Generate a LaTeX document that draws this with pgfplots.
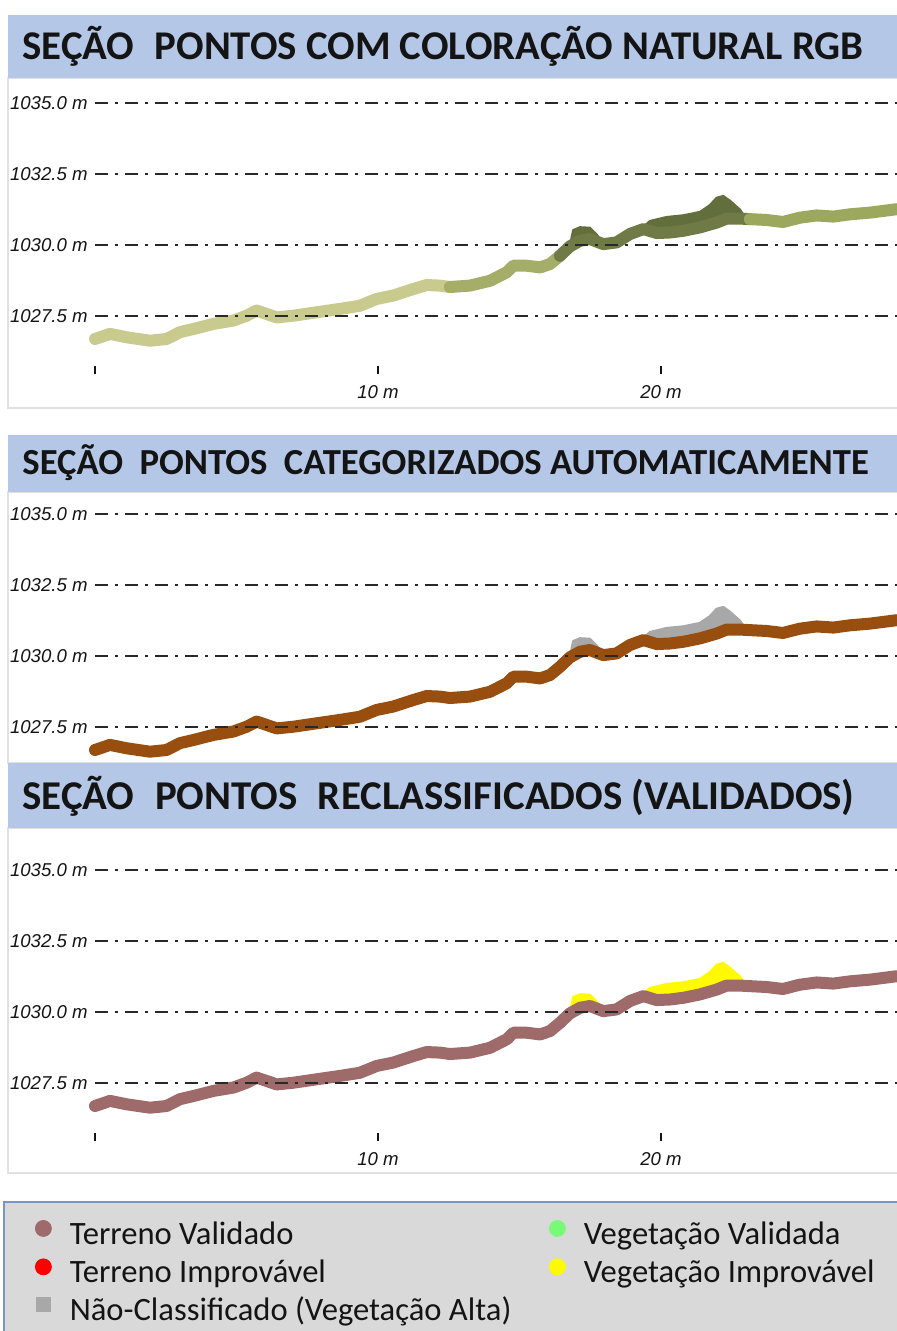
\documentclass[border=0pt]{standalone}
\usepackage{fontspec}
\setmainfont{Carlito}
\newfontfamily\arialf{Liberation Sans}
\usepackage{pgfplots}
\pgfplotsset{compat=1.18}
\usepackage{pgfplotstable}

\definecolor{titlebar}{RGB}{180,199,231}
\definecolor{framegray}{RGB}{225,225,225}
\definecolor{gridc}{RGB}{40,40,40}
\definecolor{olA}{RGB}{200,202,142}
\definecolor{olB}{RGB}{165,174,104}
\definecolor{olC}{RGB}{112,122,70}
\definecolor{olD}{RGB}{155,168,94}
\definecolor{olV}{RGB}{98,110,60}
\definecolor{brownT}{RGB}{152,78,14}
\definecolor{greyV}{RGB}{168,168,168}
\definecolor{roseT}{RGB}{158,106,106}
\definecolor{yellowV}{RGB}{255,250,0}
\definecolor{legbg}{RGB}{217,217,217}
\definecolor{legborder}{RGB}{120,150,195}
\definecolor{redL}{RGB}{255,0,0}
\definecolor{greenL}{RGB}{120,250,120}
\definecolor{txt}{RGB}{20,20,20}

\newcommand{\tickfont}{\arialf\itshape\fontsize{9.3}{10}\selectfont}
\newcommand{\legfont}{\fontsize{16.3}{19}\selectfont}

\pgfplotstableread{
x y
0.00 1026.69
0.53 1026.87
1.12 1026.75
1.94 1026.63
2.53 1026.69
3.00 1026.93
3.47 1027.04
4.18 1027.22
4.89 1027.34
5.36 1027.51
5.71 1027.69
6.07 1027.57
6.42 1027.45
7.01 1027.51
7.83 1027.63
8.66 1027.75
9.36 1027.86
9.95 1028.10
10.54 1028.22
11.25 1028.45
11.72 1028.59
12.19 1028.57
12.54 1028.52
13.25 1028.57
13.96 1028.74
14.55 1029.04
14.78 1029.27
15.26 1029.27
15.73 1029.21
16.08 1029.33
16.43 1029.62
16.78 1029.95
17.14 1030.15
17.49 1030.21
17.96 1030.03
18.43 1030.09
18.91 1030.39
19.38 1030.56
19.85 1030.42
20.32 1030.44
20.79 1030.50
21.38 1030.62
21.97 1030.79
22.32 1030.93
22.79 1030.93
23.14 1030.91
23.73 1030.88
24.31 1030.81
24.90 1030.96
25.50 1031.04
26.09 1031.00
26.68 1031.08
27.39 1031.14
28.33 1031.26
}\terrain

\pgfplotstableread{
x y
16.78 1029.95
16.90 1030.52
17.14 1030.62
17.49 1030.60
17.73 1030.36
17.96 1030.03
17.49 1030.21
17.14 1030.15
16.78 1029.95
}\vegA

\pgfplotstableread{
x y
19.30 1030.56
19.61 1030.84
20.20 1030.98
20.79 1031.04
21.38 1031.16
21.73 1031.40
21.97 1031.66
22.20 1031.72
22.44 1031.55
22.79 1031.24
23.02 1030.90
22.79 1030.93
22.32 1030.93
21.97 1030.79
21.38 1030.62
20.79 1030.50
20.32 1030.44
19.85 1030.42
19.30 1030.56
}\vegB

\pgfplotsset{
  panel/.style={
    scale only axis, width=401pt,
    xmin=0, xmax=28.34, ymax=1035.5,
    axis x line*=bottom, axis y line*=left,
    x axis line style={draw=none}, y axis line style={draw=none},
    ytick={1027.5,1030,1032.5,1035},
    yticklabels={1027.5 m,1030.0 m,1032.5 m,1035.0 m},
    yticklabel style={font=\tickfont, text=txt, anchor=east, inner sep=0pt, xshift=-3.5pt},
    ytick style={draw=none},
    xtick={0,10,20},
    xticklabels={,10 m,20 m},
    xticklabel style={font=\tickfont, text=txt, anchor=center, inner sep=0pt, yshift=-9pt},
    xtick align=inside, major tick length=4pt,
    xtick style={draw=txt, line width=0.9pt},
    ymajorgrids, xmajorgrids=false,
    major grid style={draw=gridc, line width=0.9pt, dash pattern=on 6.5pt off 3.5pt on 1.5pt off 3.5pt},
    axis on top, clip=false,
  },
  terr/.style={line width=6pt, line join=round, line cap=round, no marks},
  veg/.style={line width=1.2pt, line join=round, no marks},
  legbox/.style={
    at={(2pt,0pt)}, anchor=south west, scale only axis, width=446.5pt, height=64.5pt,
    xmin=0, xmax=1, ymin=0, ymax=1, hide axis,
  },
  legsty/.style={legend style={draw=none, fill=none, anchor=north west, font=\legfont, text=txt,
      inner sep=0pt, outer sep=0pt,
      row sep=3pt, nodes={inner sep=0pt, text height=12pt, text depth=4pt},
      /tikz/every odd column/.append style={column sep=9pt}},
    legend cell align=left},
}

\begin{document}
\begin{tikzpicture}[x=0.5pt,y=0.5pt]
\useasboundingbox[fill=white] (0,0) rectangle (897,1331);

% panel frames
\draw[framegray, line width=0.6pt] (8,923) rectangle (900,1253);
\draw[framegray, line width=0.6pt] (8,568) rectangle (900,839);
\draw[framegray, line width=0.6pt] (8,158) rectangle (900,503);
% title bars
\fill[titlebar] (8,1253) rectangle (897,1316);
\fill[titlebar] (8,839) rectangle (897,896);
\fill[titlebar] (8,503) rectangle (897,568);
\node[anchor=base west, inner sep=0pt, text=txt, font=\bfseries\fontsize{20.4}{24}\selectfont] at (22,1271)
  {SEÇÃO\hspace{0.5em}PONTOS COM COLORAÇÃO NATURAL RGB};
\node[anchor=base west, inner sep=0pt, text=txt, font=\bfseries\fontsize{18.35}{22}\selectfont] at (22,856)
  {SEÇÃO\hspace{0.45em}PONTOS\hspace{0.45em}CATEGORIZADOS AUTOMATICAMENTE};
\node[anchor=base west, inner sep=0pt, text=txt, font=\bfseries\fontsize{20.45}{24}\selectfont] at (22,521)
  {SEÇÃO\hspace{0.5em}PONTOS\hspace{0.5em}RECLASSIFICADOS (VALIDADOS)};

% legend box
\fill[legbg] (4,0) rectangle (897,129);
\draw[legborder, line width=0.8pt] (4,0) -- (4,129) -- (897,129);

% ---- panel 1: natural RGB colour
\begin{axis}[panel, at={(47.5pt,478.5pt)}, anchor=south west, ymin=1025.458, height=142.6pt]
\addplot[veg, fill=olV, draw=olV] table {\vegA};
\addplot[veg, fill=olV, draw=olV] table {\vegB};
\addplot[terr, draw=olA, restrict x to domain=0:12.6] table {\terrain};
\addplot[terr, draw=olB, restrict x to domain=12.5:16.5] table {\terrain};
\addplot[terr, draw=olC, restrict x to domain=16.4:23.2] table {\terrain};
\addplot[terr, draw=olD, restrict x to domain=23.1:28.4] table {\terrain};
\end{axis}

% ---- panel 2: automatic classification
\begin{axis}[panel, at={(47.5pt,284.25pt)}, anchor=south west, ymin=1026.25, height=131.35pt, xtick=\empty]
\addplot[veg, fill=greyV, draw=greyV] table {\vegA};
\addplot[veg, fill=greyV, draw=greyV] table {\vegB};
\addplot[terr, draw=brownT] table {\terrain};
\end{axis}

% ---- panel 3: validated
\begin{axis}[panel, at={(47.5pt,95pt)}, anchor=south west, ymin=1025.458, height=142.6pt]
\addplot[veg, fill=yellowV, draw=yellowV] table {\vegA};
\addplot[veg, fill=yellowV, draw=yellowV] table {\vegB};
\addplot[terr, draw=roseT] table {\terrain};
\end{axis}

% ---- legend, left column
\begin{axis}[legbox, legsty, legend style={at={(0.0347,0.860)}}]
\addlegendimage{legend image code/.code={\fill[roseT] (0pt,4pt) circle (4pt);}}
\addlegendentry{Terreno Validado}
\addlegendimage{legend image code/.code={\fill[redL] (0pt,4pt) circle (4pt);}}
\addlegendentry{Terreno Improvável}
\addlegendimage{legend image code/.code={\fill[greyV] (-3.5pt,0.5pt) rectangle (3.5pt,7.5pt);}}
\addlegendentry{Não-Classificado (Vegetação Alta)}
\end{axis}

% ---- legend, right column
\begin{axis}[legbox, legsty, legend style={at={(0.6103,0.860)}}]
\addlegendimage{legend image code/.code={\fill[greenL] (0pt,4pt) circle (4pt);}}
\addlegendentry{Vegetação Validada}
\addlegendimage{legend image code/.code={\fill[yellowV] (0pt,4pt) circle (4pt);}}
\addlegendentry{Vegetação Improvável}
\end{axis}
\end{tikzpicture}
\end{document}
